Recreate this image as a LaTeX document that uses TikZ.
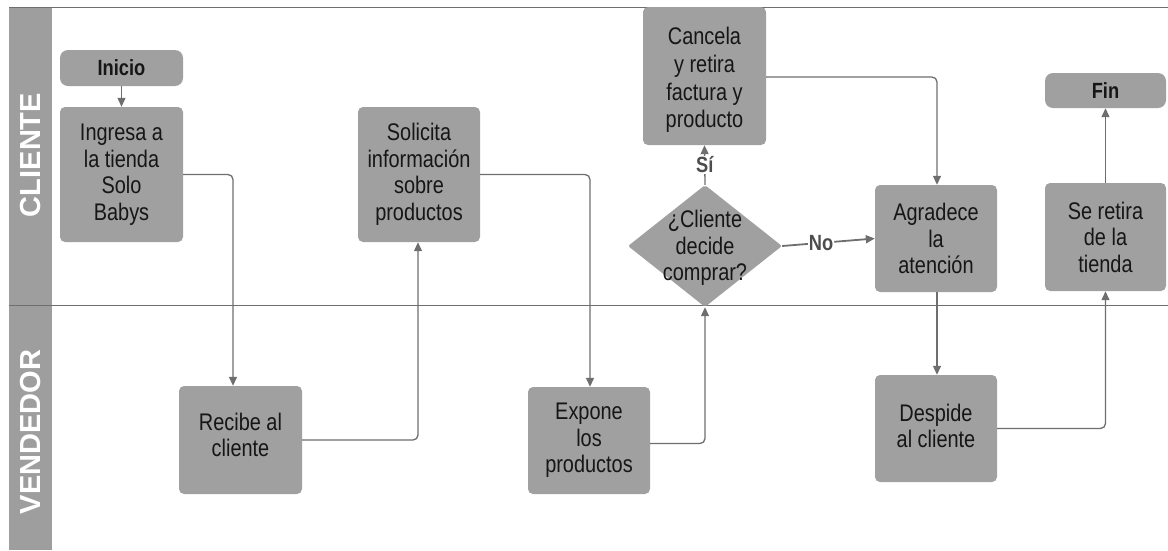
\documentclass[tikz,border=0pt]{standalone}
\usepackage{fontspec}
\setmainfont{Liberation Sans}[FakeStretch=0.83]
\newfontfamily\lanefont{Liberation Sans}
\usetikzlibrary{shapes.geometric,arrows.meta}
\definecolor{boxgray}{RGB}{160,160,160}
\definecolor{linegray}{RGB}{110,110,110}
\definecolor{textdark}{RGB}{22,22,22}
\definecolor{lanegray}{RGB}{158,158,158}
\begin{document}
\begin{tikzpicture}[x=1pt,y=-1pt,
  proc/.style={rectangle, rounded corners=5pt, fill=boxgray, draw=none,
    inner sep=0pt, align=center, text=textdark,
    font=\fontsize{24}{26.5}\selectfont},
  term/.style={proc, rounded corners=8pt, font=\fontsize{22}{24}\selectfont\bfseries},
  decision/.style={diamond, fill=boxgray, draw=none, inner sep=0pt,
    minimum width=154pt, minimum height=122pt, rounded corners=2pt},
  conn/.style={draw=linegray, line width=1.3pt, rounded corners=5pt,
    -{Triangle[length=9pt,width=8pt]}},
  flowlabel/.style={fill=white, inner sep=0.8pt, text=linegray!70!black,
    font=\fontsize{22}{24}\selectfont\bfseries},
  lanetitle/.style={rotate=90, text=white, font=\lanefont\fontsize{29}{30}\selectfont\bfseries},
  laneline/.style={draw=linegray, line width=1pt}]

\useasboundingbox (0,0) rectangle (1168,550);

% swimlanes
\fill[lanegray] (9,7) rectangle (52,550);
\draw[laneline] (9,7) -- (1168,7);
\draw[laneline] (9,305) -- (1168,305);
\node[lanetitle] (laneC) at (31,155) {CLIENTE};
\node[lanetitle] (laneV) at (31,432) {VENDEDOR};

% steps
\node[term, minimum width=123pt, minimum height=36pt] (inicio) at (121.5,68) {Inicio};
\node[proc, minimum width=123pt, minimum height=135pt] (ingresa) at (121.5,174.5)
  {Ingresa a\\la tienda\\Solo\\Babys};
\node[proc, minimum width=123pt, minimum height=108pt] (recibe) at (240.5,440)
  {Recibe al\\cliente\\[-16.5pt]};
\node[proc, minimum width=122pt, minimum height=135pt] (solicita) at (419,174.5)
  {Solicita\\información\\sobre\\productos};
\node[proc, minimum width=122pt, minimum height=107pt] (expone) at (589,440.5)
  {Expone\\los\\productos};
\node[proc, minimum width=123pt, minimum height=138pt] (cancela) at (704.5,76) {};
\node[proc, fill=none, font=\fontsize{24}{27.8}\selectfont] (cancelatxt) at (704.5,80)
  {Cancela\\y retira\\factura y\\producto};
\node[decision] (decide) at (705,246) {};
\node[proc, fill=none] (decidetxt) at (705,248) {¿Cliente\\decide\\comprar?};
\node[proc, minimum width=122pt, minimum height=107pt] (agradece) at (936,238.5)
  {Agradece\\la\\atención};
\node[proc, minimum width=122pt, minimum height=107pt] (despide) at (936,428.5)
  {Despide\\al cliente\\[-21.5pt]};
\node[proc, minimum width=121pt, minimum height=108pt] (seretira) at (1105.5,237)
  {Se retira\\de la\\tienda};
\node[term, minimum width=121pt, minimum height=35pt] (fin) at (1105.5,90.5) {Fin};

% connectors
\draw[conn] (inicio) -- (ingresa);
\draw[conn] (ingresa.east) -| ([xshift=-7.5pt]recibe.north);
\draw[conn] (recibe.east) -| ([xshift=-1pt]solicita.south);
\draw[conn] (solicita.east) -| ([xshift=1pt]expone.north);
\draw[conn] ([yshift=-3pt]expone.east) -| (decide.south);
\draw[conn] (decide.north) -- node[flowlabel] (si) {Sí} (cancela.south);
\draw[conn, line width=1.8pt] (decide.east) -- node[flowlabel, pos=0.42] (no) {No} (agradece.west);
\draw[conn] ([yshift=-1pt]cancela.east) -| ([xshift=1pt]agradece.north);
\draw[conn] ([xshift=1pt]agradece.south) -- ([xshift=1pt]despide.north);
\draw[conn] (despide.east) -| (seretira.south);
\draw[conn] (seretira.north) -- (fin.south);
\end{tikzpicture}
\end{document}
